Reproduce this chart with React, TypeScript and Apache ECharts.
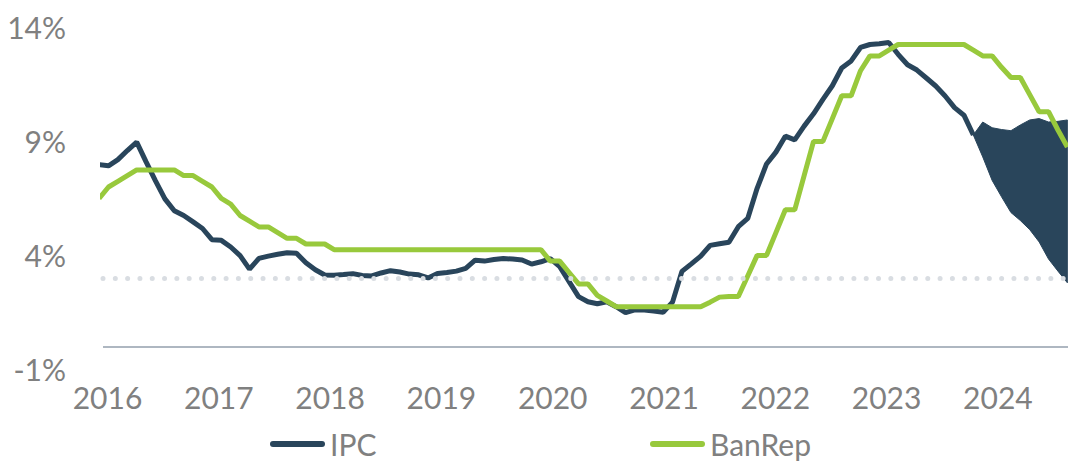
import React, { useEffect, useRef } from "react";
import * as echarts from "echarts";

// Monthly data, index 0 = March 2016
const ipc = [
  7.98, 7.93, 8.2, 8.6, 8.97, 8.1, 7.27, 6.48, 5.96, 5.75,
  5.47, 5.18, 4.69, 4.66, 4.37, 3.99, 3.4, 3.87, 3.97, 4.05, 4.12, 4.09,
  3.68, 3.37, 3.14, 3.13, 3.16, 3.2, 3.12, 3.1, 3.23, 3.33, 3.27, 3.18,
  3.15, 3.01, 3.21, 3.25, 3.31, 3.43, 3.79, 3.75, 3.82, 3.86, 3.84, 3.8,
  3.62, 3.72, 3.86, 3.51, 2.85, 2.19, 1.97, 1.88, 1.97, 1.75, 1.49, 1.61,
  1.6, 1.56, 1.51, 1.95, 3.3, 3.63, 3.97, 4.44, 4.51, 4.58, 5.26, 5.62,
  6.94, 8.01, 8.53, 9.23, 9.07, 9.67, 10.21, 10.84, 11.44, 12.22, 12.53, 13.12,
  13.25, 13.28, 13.34, 12.82, 12.36, 12.13, 11.78, 11.43, 10.99, 10.48, 10.15, 9.28,
];

const banrep = [
  6.5, 7.0, 7.25, 7.5, 7.75, 7.75, 7.75, 7.75, 7.75, 7.5,
  7.5, 7.25, 7.0, 6.5, 6.25, 5.75, 5.5, 5.25, 5.25, 5.0, 4.75, 4.75,
  4.5, 4.5, 4.5, 4.25, 4.25, 4.25, 4.25, 4.25, 4.25, 4.25, 4.25, 4.25,
  4.25, 4.25, 4.25, 4.25, 4.25, 4.25, 4.25, 4.25, 4.25, 4.25, 4.25, 4.25,
  4.25, 4.25, 3.75, 3.75, 3.25, 2.75, 2.75, 2.25, 2.0, 1.75, 1.75, 1.75,
  1.75, 1.75, 1.75, 1.75, 1.75, 1.75, 1.75, 1.95, 2.17, 2.2, 2.2, 3.1,
  4.0, 4.0, 5.0, 6.0, 6.0, 7.5, 9.0, 9.0, 10.0, 11.0, 11.0, 12.1,
  12.75, 12.75, 13.0, 13.25, 13.25, 13.25, 13.25, 13.25, 13.25, 13.25, 13.25, 13.0,
  12.75, 12.75, 12.25, 11.8, 11.8, 11.05, 10.3, 10.3, 9.5, 8.75,
];

// Projection band (starts at the last IPC observation)
const fanStart = 93;
const fanLow = [9.28, 8.32, 7.29, 6.57, 5.88, 5.53, 5.13, 4.59, 3.84, 3.31, 2.8];
const fanHigh = [9.28, 9.85, 9.6, 9.52, 9.47, 9.72, 9.94, 10.0, 9.85, 9.88, 9.94];

const yearLabels = [2016, 2017, 2018, 2019, 2020, 2021, 2022, 2023, 2024];
const yMin = -1;
const yMax = 14;
const yStep = 5;
const targetRate = 3;

const NAVY = "#29455b";
const GREEN = "#98c93c";
const GRAY = "#808080";
const FONT = "Lato, 'Noto Sans', sans-serif";

export default function App() {
  const ref = useRef<HTMLDivElement>(null);

  useEffect(() => {
    if (!ref.current) return;
    const chart = echarts.init(ref.current, null, { renderer: "svg" });

    const ipcData = ipc.map((v, i) => [i, v]);
    const banData = banrep.map((v, i) => [i, v]);
    const fanData = fanLow.map((v, i) => [fanStart + i, v, fanHigh[i]]);

    const capsule = "path://M3,0H52A3,3,0,0,1,52,6H3A3,3,0,0,1,3,0Z";
    const legendText = { fontSize: 30, color: GRAY, fontFamily: FONT, lineHeight: 30 };

    chart.setOption({
      animation: false,
      textStyle: { fontFamily: FONT },
      grid: { left: 103, right: 0, top: 27.4, bottom: 92.6 },
      legend: [
        {
          data: ["IPC"],
          left: 270,
          top: 429,
          padding: 0,
          itemWidth: 55,
          itemHeight: 6,
          icon: capsule,
          selectedMode: false,
          textStyle: legendText,
        },
        {
          data: ["BanRep"],
          left: 650,
          top: 429,
          padding: 0,
          itemWidth: 55,
          itemHeight: 6,
          icon: capsule,
          selectedMode: false,
          textStyle: legendText,
        },
      ],
      xAxis: [
        {
          type: "value",
          min: 0.415,
          max: 103.07,
          show: false,
        },
        {
          type: "value",
          position: "bottom",
          min: -0.0404,
          max: 8.6298,
          axisLine: { show: false },
          axisTick: { show: false },
          splitLine: { show: false },
          axisLabel: {
            customValues: yearLabels.map((_, i) => i),
            formatter: (v: number) => String(yearLabels[Math.round(v)] ?? ""),
            fontSize: 30,
            color: GRAY,
            margin: 13,
            fontFamily: FONT,
          },
        },
      ],
      yAxis: {
        type: "value",
        min: yMin,
        max: yMax,
        interval: yStep,
        axisLine: { show: false },
        axisTick: { show: false },
        splitLine: { show: false },
        axisLabel: {
          formatter: (v: number) => `${v}%`,
          fontSize: 30,
          color: GRAY,
          margin: 37,
          padding: [0, 0, 10, 0],
          fontFamily: FONT,
        },
      },
      series: [
        {
          name: "ref",
          type: "line",
          data: [],
          silent: true,
          z: 1,
          markLine: {
            silent: true,
            symbol: ["none", "none"],
            label: { show: false },
            data: [
              {
                yAxis: 0,
                lineStyle: { color: "#aeb7c1", width: 2, type: "solid" },
              },
              {
                yAxis: targetRate,
                lineStyle: {
                  color: "#d9dde2",
                  width: 5,
                  type: [0.01, 12.3],
                  cap: "round",
                },
              },
            ],
          },
        },
        {
          name: "fan",
          type: "custom",
          data: fanData,
          encode: { x: 0, y: [1, 2] },
          silent: true,
          z: 2,
          renderItem: (params: any, api: any) => {
            if (params.dataIndex !== 0) return null;
            const top = fanHigh.map((v, i) => api.coord([fanStart + i, v]));
            const bottom = fanLow
              .map((v, i) => api.coord([fanStart + i, v]))
              .reverse();
            return {
              type: "polygon",
              shape: { points: top.concat(bottom) },
              style: { fill: NAVY, stroke: NAVY, lineWidth: 1 },
            };
          },
        },
        {
          name: "IPC",
          type: "line",
          data: ipcData,
          showSymbol: false,
          color: NAVY,
          itemStyle: { color: NAVY },
          lineStyle: { color: NAVY, width: 5 },
          silent: true,
          z: 3,
        },
        {
          name: "BanRep",
          type: "line",
          data: banData,
          showSymbol: false,
          color: GREEN,
          itemStyle: { color: GREEN },
          lineStyle: { color: GREEN, width: 5 },
          silent: true,
          z: 4,
        },
      ],
    });

    return () => chart.dispose();
  }, []);

  return (
    <div
      ref={ref}
      style={{ position: "absolute", left: 0, top: 0, width: 1068, height: 462 }}
    />
  );
}
